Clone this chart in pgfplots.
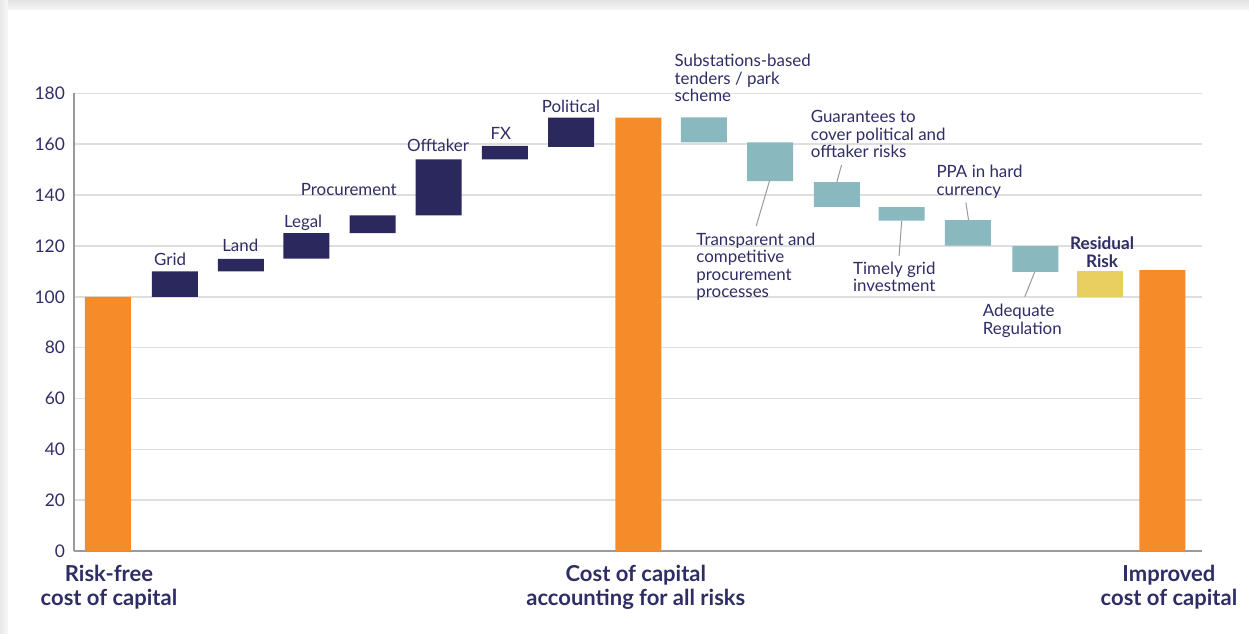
\documentclass[border=0pt]{standalone}
\usepackage{fontspec}
\setmainfont{Lato}
\usepackage{pgfplots}
\pgfplotsset{compat=1.18}
\usepackage{pgfplotstable}
\definecolor{cOrange}{HTML}{F68B29}
\definecolor{cNavy}{HTML}{2B285E}
\definecolor{cTeal}{HTML}{8AB8BF}
\definecolor{cYellow}{HTML}{E9CF5F}
\definecolor{cText}{HTML}{2F2D66}
\definecolor{cGrid}{HTML}{DEDEDE}
\definecolor{cAxis}{HTML}{9A9A9A}
\pgfplotstableread{
x base orange navy teal yellow
0     0      100   0    0    0
1.01  100    0     10   0    0
2.01  110    0     4.9  0    0
3     115    0     10   0    0
4     125    0     7    0    0
5     132    0     22   0    0
6     154    0     5.4  0    0
7     159    0     11.5 0    0
8.02  0      170.5 0    0    0
9.01  160.7  0     0    9.9  0
10.01 145.5  0     0    15.2 0
11.02 135.4  0     0    9.7  0
12    130    0     0    5.3  0
13    120.1  0     0    10.1 0
14.02 109.8  0     0    10.1 0
15    100    0     0    0    10.1
15.94 0      110.5 0    0    0
}\wf
\newcommand{\lbl}{\fontsize{8.45}{8.7}\selectfont\color{cText}}
\newcommand{\blbl}{\fontsize{11}{12}\selectfont\bfseries\color{cText}}
\begin{document}
\begin{tikzpicture}
% card background with soft shadow
\shade[top color=gray!22, bottom color=gray!6] (0,311.5pt) rectangle (624.5pt,316.5pt);
\shade[left color=gray!18, right color=gray!6] (0,0) rectangle (4pt,316.5pt);
\fill[white] (4pt,0) rectangle (624.5pt,311.5pt);
\begin{axis}[
  at={(37pt,41pt)}, anchor=south west,
  scale only axis, width=564pt, height=228.8pt,
  xmin=-0.514, xmax=16.54, ymin=0, ymax=180,
  ybar stacked, bar width=23pt,
  clip=false,
  axis x line*=bottom, axis y line*=left,
  x axis line style={draw=cAxis, line width=1.2pt, -},
  y axis line style={draw=cAxis, line width=0.9pt, -},
  xtick=\empty,
  ytick={0,20,...,180},
  major tick length=0pt,
  ymajorgrids, major grid style={draw=cGrid, line width=0.8pt},
  yticklabel style={font=\fontsize{8.7}{10}\selectfont, text=cText, xshift=-1pt},
  /pgf/number format/assume math mode=true,
]
\addplot[fill=none, draw=none] table[x=x, y=base] {\wf};
\addplot[fill=cOrange, draw=none] table[x=x, y=orange] {\wf};
\addplot[fill=cNavy, draw=none] table[x=x, y=navy] {\wf};
\addplot[fill=cTeal, draw=none] table[x=x, y=teal] {\wf};
\addplot[fill=cYellow, draw=none] table[x=x, y=yellow] {\wf};

% labels of rising risks
\node[anchor=base, inner sep=0pt, font=\lbl] at (axis cs:0.94,112.5) {Grid};
\node[anchor=base, inner sep=0pt, font=\lbl] at (axis cs:2.0,117.9) {Land};
\node[anchor=base, inner sep=0pt, font=\lbl] at (axis cs:2.95,127.2) {Legal};
\node[anchor=base, inner sep=0pt, font=\lbl] at (axis cs:3.64,140) {Procurement};
\node[anchor=base, inner sep=0pt, font=\lbl] at (axis cs:4.99,157) {Offtaker};
\node[anchor=base, inner sep=0pt, font=\lbl] at (axis cs:5.94,162) {FX};
\node[anchor=base, inner sep=0pt, font=\lbl] at (axis cs:7.0,172.5) {Political};

% labels of mitigations
\node[anchor=north west, inner sep=0pt, align=left, font=\lbl] at (axis cs:8.56,195.5) {Substations-based\\tenders / park\\scheme};
\node[anchor=north west, inner sep=0pt, align=left, font=\lbl] at (axis cs:8.89,125.2) {Transparent and\\competitive\\procurement\\processes};
\node[anchor=north west, inner sep=0pt, align=left, font=\lbl] at (axis cs:10.62,173.4) {Guarantees to\\cover political and\\offtaker risks};
\node[anchor=north west, inner sep=0pt, align=left, font=\lbl] at (axis cs:11.26,113.8) {Timely grid\\investment};
\node[anchor=north west, inner sep=0pt, align=left, font=\lbl] at (axis cs:12.52,151.8) {PPA in hard\\currency};
\node[anchor=north west, inner sep=0pt, align=left, font=\lbl] at (axis cs:13.22,97.1) {Adequate\\Regulation};
\node[anchor=north, inner sep=0pt, align=center, font=\fontsize{8.6}{9}\selectfont\bfseries\color{cText}] at (axis cs:15.03,123.6) {Residual\\Risk};

% leader lines
\draw[cAxis, line width=0.5pt] (axis cs:10.0,145.5) -- (axis cs:9.8,127.8);
\draw[cAxis, line width=0.5pt] (axis cs:11.09,151.8) -- (axis cs:11.02,145.2);
\draw[cAxis, line width=0.5pt] (axis cs:12.0,129.9) -- (axis cs:11.96,116.0);
\draw[cAxis, line width=0.5pt] (axis cs:12.97,137.1) -- (axis cs:13.01,130.2);
\draw[cAxis, line width=0.5pt] (axis cs:14.01,109.7) -- (axis cs:13.86,100);

% category labels
\node[anchor=north, inner sep=0pt, align=center, font=\blbl] at (axis cs:0.015,-5.5) {Risk-free\\cost of capital};
\node[anchor=north, inner sep=0pt, align=center, font=\blbl] at (axis cs:7.98,-5.5) {Cost of capital\\accounting for all risks};
\node[anchor=north, inner sep=0pt, align=center, font=\blbl] at (axis cs:16.04,-5.5) {Improved\\cost of capital};
\end{axis}
\end{tikzpicture}
\end{document}
